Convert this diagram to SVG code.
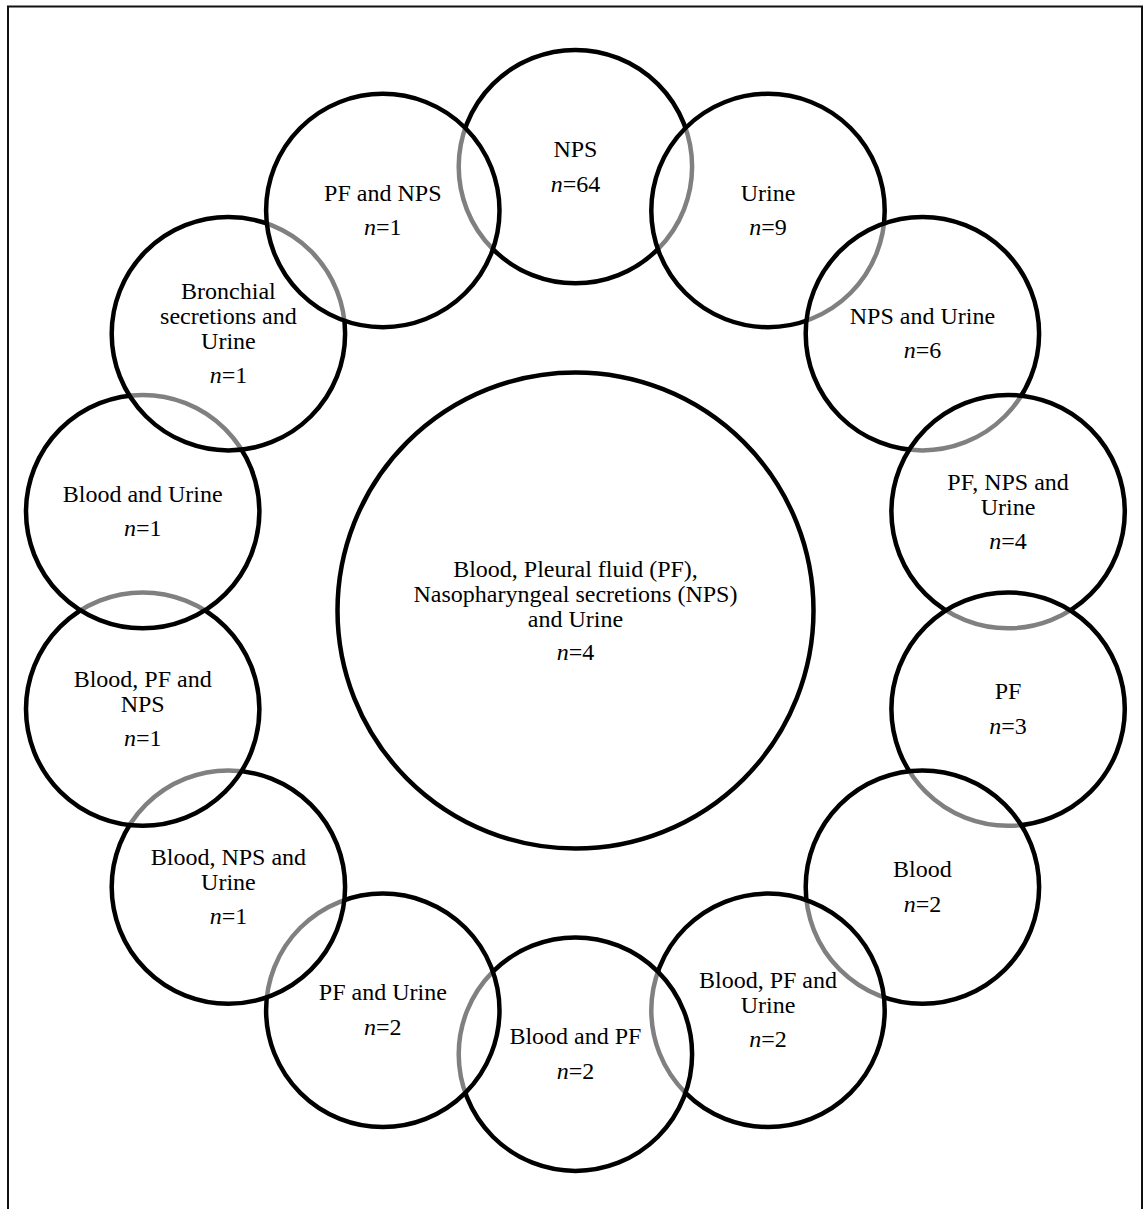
<svg xmlns="http://www.w3.org/2000/svg" width="1145" height="1209" viewBox="0 0 1145 1209">
<style>
  .ring { fill: #ffffff; fill-opacity: 0.5; stroke: #000; stroke-width: 4.5; }
  .big { fill: none; stroke: #000; stroke-width: 4.5; }
  text { font-family: "Liberation Serif", "Times New Roman", serif; font-size: 24px; fill: #000; text-anchor: middle; }
  .it { font-style: italic; }
</style>
<rect x="0" y="0" width="1145" height="1209" fill="#fff"/>
<rect x="8" y="6.5" width="1134" height="1240" fill="none" stroke="#111" stroke-width="2"/>

<g id="node-all">
  <circle class="big" cx="575.5" cy="610.5" r="238"/>
  <text x="575.5" y="577">Blood, Pleural fluid (PF),</text>
  <text x="575.5" y="602">Nasopharyngeal secretions (NPS)</text>
  <text x="575.5" y="627">and Urine</text>
  <text x="575.5" y="660"><tspan class="it">n</tspan>=4</text>
</g>

<g id="node-nps">
  <circle class="ring" cx="575.4" cy="166.6" r="116.7"/>
  <text x="575.4" y="156.6">NPS</text>
  <text x="575.4" y="191.6"><tspan class="it">n</tspan>=64</text>
</g>
<g id="node-urine">
  <circle class="ring" cx="768" cy="210.5" r="116.7"/>
  <text x="768" y="200.5">Urine</text>
  <text x="768" y="235"><tspan class="it">n</tspan>=9</text>
</g>
<g id="node-nps-urine">
  <circle class="ring" cx="922.4" cy="333.7" r="116.7"/>
  <text x="922.4" y="323.7">NPS and Urine</text>
  <text x="922.4" y="358.2"><tspan class="it">n</tspan>=6</text>
</g>
<g id="node-pf-nps-urine">
  <circle class="ring" cx="1008.1" cy="511.6" r="116.7"/>
  <text x="1008.1" y="489.6">PF, NPS and</text>
  <text x="1008.1" y="514.6">Urine</text>
  <text x="1008.1" y="548.6"><tspan class="it">n</tspan>=4</text>
</g>
<g id="node-pf">
  <circle class="ring" cx="1008.1" cy="709.1" r="116.7"/>
  <text x="1008.1" y="699.1">PF</text>
  <text x="1008.1" y="733.6"><tspan class="it">n</tspan>=3</text>
</g>
<g id="node-blood">
  <circle class="ring" cx="922.4" cy="887.1" r="116.7"/>
  <text x="922.4" y="877.1">Blood</text>
  <text x="922.4" y="911.6"><tspan class="it">n</tspan>=2</text>
</g>
<g id="node-blood-pf-urine">
  <circle class="ring" cx="768" cy="1010.3" r="116.7"/>
  <text x="768" y="987.8">Blood, PF and</text>
  <text x="768" y="1012.8">Urine</text>
  <text x="768" y="1047.3"><tspan class="it">n</tspan>=2</text>
</g>
<g id="node-blood-pf">
  <circle class="ring" cx="575.4" cy="1054.2" r="116.7"/>
  <text x="575.4" y="1044.2">Blood and PF</text>
  <text x="575.4" y="1078.7"><tspan class="it">n</tspan>=2</text>
</g>
<g id="node-pf-urine">
  <circle class="ring" cx="382.8" cy="1010.3" r="116.7"/>
  <text x="382.8" y="1000.3">PF and Urine</text>
  <text x="382.8" y="1034.8"><tspan class="it">n</tspan>=2</text>
</g>
<g id="node-blood-nps-urine">
  <circle class="ring" cx="228.4" cy="887.1" r="116.7"/>
  <text x="228.4" y="864.6">Blood, NPS and</text>
  <text x="228.4" y="889.6">Urine</text>
  <text x="228.4" y="924.1"><tspan class="it">n</tspan>=1</text>
</g>
<g id="node-blood-pf-nps">
  <circle class="ring" cx="142.7" cy="709.1" r="116.7"/>
  <text x="142.7" y="686.6">Blood, PF and</text>
  <text x="142.7" y="711.6">NPS</text>
  <text x="142.7" y="746.1"><tspan class="it">n</tspan>=1</text>
</g>
<g id="node-blood-urine">
  <circle class="ring" cx="142.7" cy="511.6" r="116.7"/>
  <text x="142.7" y="501.6">Blood and Urine</text>
  <text x="142.7" y="536.1"><tspan class="it">n</tspan>=1</text>
</g>
<g id="node-bronchial-urine">
  <circle class="ring" cx="228.4" cy="333.7" r="116.7"/>
  <text x="228.4" y="299.3">Bronchial</text>
  <text x="228.4" y="324.3">secretions and</text>
  <text x="228.4" y="349.3">Urine</text>
  <text x="228.4" y="383.3"><tspan class="it">n</tspan>=1</text>
</g>
<g id="node-pf-nps">
  <circle class="ring" cx="382.8" cy="210.5" r="116.7"/>
  <text x="382.8" y="200.5">PF and NPS</text>
  <text x="382.8" y="235"><tspan class="it">n</tspan>=1</text>
</g>

<g id="connectors"></g>
</svg>
